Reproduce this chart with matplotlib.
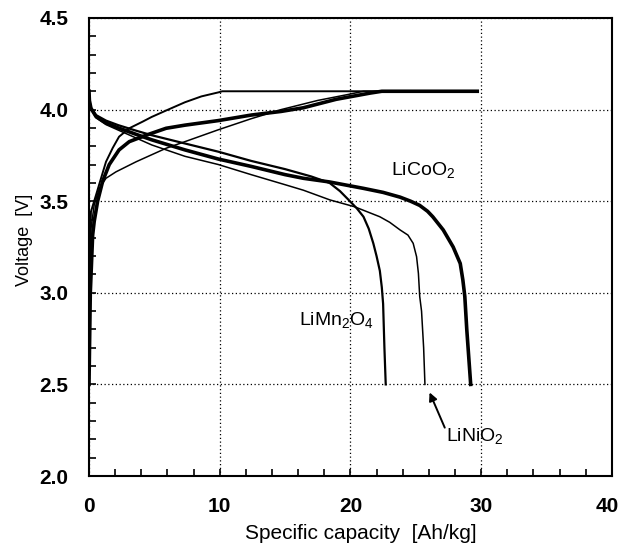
import matplotlib
matplotlib.use("Agg")
import matplotlib.pyplot as plt
from matplotlib.ticker import MultipleLocator, FuncFormatter

plt.rcParams.update({
    'font.family': ['Liberation Sans', 'DejaVu Sans'],
    'mathtext.fontset': 'custom',
    'mathtext.rm': 'Liberation Sans',
    'mathtext.it': 'Liberation Sans',
    'mathtext.bf': 'Liberation Sans:bold',
})

# discharge curves (capacity Ah/kg, voltage V)
mn_dis_x = [0, 0.03, 0.15, 0.54, 1.3, 2.24, 3.6, 4.8, 7.34, 9.9, 12.4, 15.0, 17.0, 18.4, 19.2, 19.96, 20.5,
            21.0, 21.4, 21.75, 22.0, 22.25, 22.4, 22.5, 22.6, 22.7]
mn_dis_v = [4.10, 4.05, 4.01, 3.97, 3.94, 3.915, 3.885, 3.86, 3.815, 3.77, 3.72, 3.675, 3.635, 3.60, 3.555, 3.50, 3.46,
            3.415, 3.35, 3.27, 3.20, 3.12, 3.03, 2.94, 2.70, 2.50]

co_dis_x = [0, 0.03, 0.15, 0.54, 1.3, 2.24, 3.6, 4.8, 7.34, 9.9, 12.4, 15.0, 16.4, 18.4, 21.0, 22.5, 23.8,
            24.6, 25.3, 25.9, 26.3, 27.1, 27.86, 28.4, 28.6, 28.75, 28.9, 29.1, 29.2]
co_dis_v = [4.10, 4.05, 4.007, 3.962, 3.927, 3.90, 3.865, 3.835, 3.78, 3.73, 3.69, 3.645, 3.625, 3.605, 3.57, 3.548, 3.522,
            3.50, 3.477, 3.445, 3.415, 3.343, 3.25, 3.16, 3.07, 2.98, 2.80, 2.60, 2.50]

ni_dis_x = [0, 0.03, 0.15, 0.54, 1.3, 2.24, 3.6, 4.8, 7.34, 9.9, 12.4, 15.0, 16.4, 18.43, 20.3, 22.25, 23.0,
            23.8, 24.4, 24.8, 25.06, 25.2, 25.3, 25.44, 25.6, 25.7]
ni_dis_v = [4.10, 4.05, 4.004, 3.955, 3.918, 3.888, 3.845, 3.807, 3.745, 3.70, 3.645, 3.59, 3.56, 3.507, 3.47, 3.415, 3.385,
            3.343, 3.315, 3.27, 3.197, 3.106, 2.98, 2.90, 2.70, 2.50]

# charge curves
mn_chg_x = [0, 0.05, 0.1, 0.15, 0.54, 0.92, 1.3, 1.81, 2.3, 3.08, 4.1, 4.8, 5.9, 7.34, 8.6, 9.9, 10.2, 23.5]
mn_chg_v = [2.50, 3.0, 3.3, 3.443, 3.534, 3.625, 3.715, 3.79, 3.852, 3.898, 3.934, 3.96, 3.995, 4.04, 4.072, 4.094, 4.10, 4.10]

co_chg_x = [0, 0.1, 0.28, 0.4, 0.66, 1.05, 1.55, 2.3, 3.08, 4.36, 5.9, 7.34, 9.9, 12.4, 14.7, 16.4, 18.9, 21.5, 22.4, 29.7]
co_chg_v = [2.50, 3.0, 3.315, 3.39, 3.50, 3.61, 3.70, 3.78, 3.825, 3.86, 3.898, 3.915, 3.94, 3.97, 3.99, 4.01, 4.056, 4.09, 4.10, 4.10]

ni_chg_x = [0, 0.08, 0.15, 0.4, 0.79, 1.3, 2.06, 3.6, 5.9, 7.34, 9.9, 12.4, 14.7, 17.5, 20.0, 21.0, 26.5]
ni_chg_v = [2.50, 3.1, 3.35, 3.48, 3.57, 3.625, 3.66, 3.715, 3.789, 3.825, 3.89, 3.95, 4.0, 4.05, 4.085, 4.10, 4.10]

fig = plt.figure(figsize=(6.21, 5.45), dpi=100)
ax = fig.add_axes([0.1433, 0.1266, 0.842, 0.8404])

ax.plot(mn_dis_x, mn_dis_v, color='black', lw=1.6)
ax.plot(co_dis_x, co_dis_v, color='black', lw=2.6)
ax.plot(ni_dis_x, ni_dis_v, color='black', lw=1.1)
ax.plot(mn_chg_x, mn_chg_v, color='black', lw=1.4)
ax.plot(co_chg_x, co_chg_v, color='black', lw=2.6)
ax.plot(ni_chg_x, ni_chg_v, color='black', lw=1.1)

ax.set_xlim(0, 40)
ax.set_ylim(2.0, 4.5)
ax.xaxis.set_major_locator(MultipleLocator(10))
ax.xaxis.set_minor_locator(MultipleLocator(2))
ax.yaxis.set_major_locator(MultipleLocator(0.5))
ax.yaxis.set_minor_locator(MultipleLocator(0.1))
ax.yaxis.set_major_formatter(plt.FormatStrFormatter('%.1f'))
# the "40" label sits at the canvas edge, drawn separately below
ax.xaxis.set_major_formatter(FuncFormatter(lambda v, p: '' if v >= 40 else '%d' % v))
ax.grid(True, which='major', color='black', ls=(0, (1, 2)), lw=0.9)
ax.tick_params(which='both', direction='in', length=5, width=1.2)
ax.tick_params(axis='x', pad=15, labelsize=15)
ax.tick_params(axis='y', pad=15, labelsize=15)
for lbl in ax.get_xticklabels() + ax.get_yticklabels():
    lbl.set_fontweight('bold')
ax.annotate('40', xy=(40, 0), xycoords=('data', 'axes fraction'), xytext=(-3, -15),
            textcoords='offset points', ha='center', va='top', fontsize=15, fontweight='bold')
for s in ax.spines.values():
    s.set_linewidth(1.5)

ax.set_xlabel('Specific capacity  [Ah/kg]', fontsize=15)
ax.set_ylabel('Voltage  [V]', fontsize=13)
ax.xaxis.set_label_coords(0.52, -0.105)
ax.yaxis.set_label_coords(-0.108, 0.515)

ax.text(25.6, 3.67, 'LiCoO$_2$', fontsize=14, ha='center', va='center')
ax.text(18.9, 2.85, 'LiMn$_2$O$_4$', fontsize=14, ha='center', va='center')
ax.text(29.5, 2.22, 'LiNiO$_2$', fontsize=14, ha='center', va='center')
ax.annotate('', xy=(25.97, 2.47), xytext=(27.3, 2.25),
            arrowprops=dict(arrowstyle='-|>', color='black', lw=1.4, mutation_scale=12))

fig.savefig('out.png', dpi=100)
